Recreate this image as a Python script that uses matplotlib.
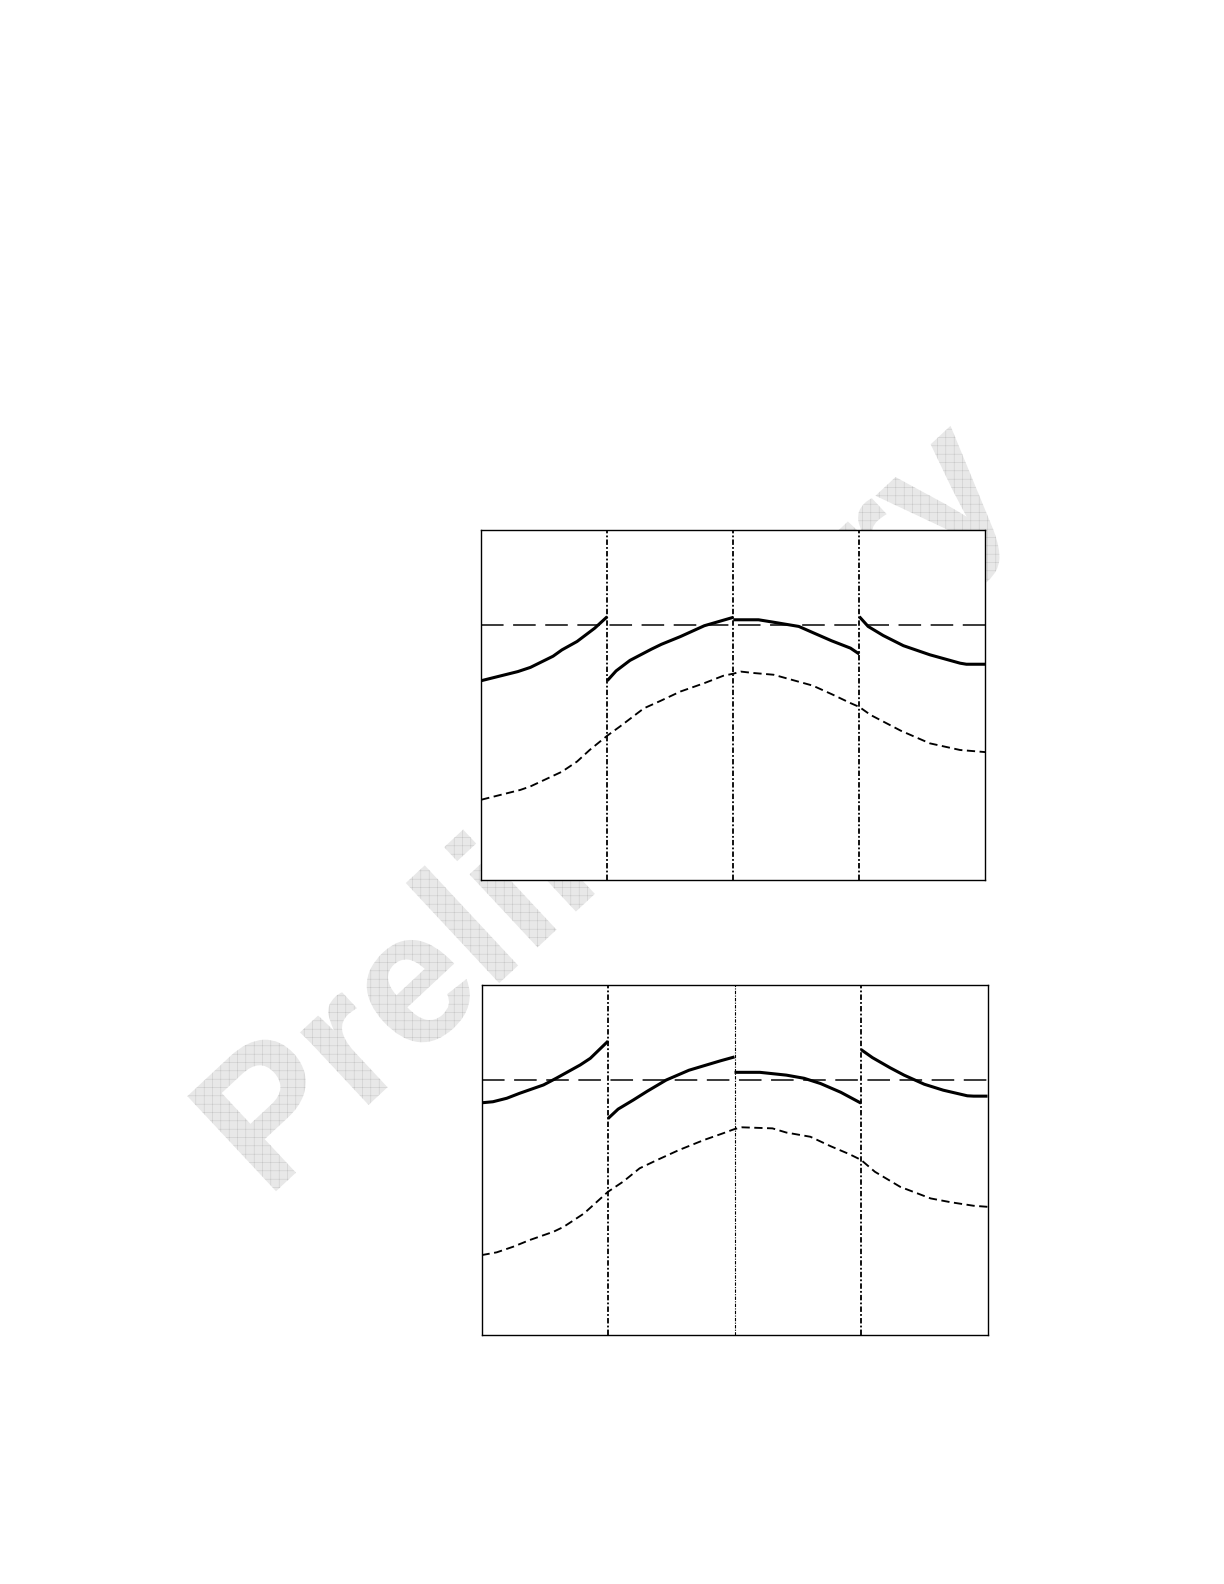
import matplotlib
matplotlib.use("Agg")
import matplotlib.pyplot as plt
from matplotlib import patheffects
from matplotlib import font_manager

# ---------------- data ----------------
# x axis: 4 equal sections 0..4, y axis: 0..1 (no ticks in the original)
section_bounds = [1, 2, 3]
ref_level_top = 0.729
ref_level_bot = 0.728

# top panel, solid curve (one piece per section)
top_solid_x = [
    [0.0, 0.29, 0.39, 0.57, 0.64, 0.76, 0.90, 1.0],
    [1.0, 1.07, 1.18, 1.35, 1.43, 1.58, 1.77, 2.0],
    [2.0, 2.20, 2.32, 2.52, 2.64, 2.78, 2.93, 3.0],
    [3.0, 3.07, 3.19, 3.35, 3.56, 3.80, 3.85, 4.0],
]
top_solid_y = [
    [0.570, 0.596, 0.608, 0.640, 0.658, 0.682, 0.720, 0.753],
    [0.570, 0.598, 0.628, 0.660, 0.674, 0.696, 0.727, 0.751],
    [0.744, 0.744, 0.737, 0.725, 0.706, 0.684, 0.663, 0.646],
    [0.753, 0.725, 0.699, 0.670, 0.644, 0.620, 0.617, 0.617],
]
# top panel, short-dashed curve
top_dash_x = [0.0, 0.31, 0.39, 0.64, 0.76, 0.86, 1.0, 1.10, 1.29, 1.42, 1.58,
              1.77, 1.92, 2.0, 2.06, 2.16, 2.32, 2.42, 2.63, 2.79, 2.93, 3.0,
              3.09, 3.33, 3.56, 3.80, 4.0]
top_dash_y = [0.230, 0.258, 0.268, 0.310, 0.339, 0.372, 0.413, 0.439, 0.491,
              0.512, 0.539, 0.563, 0.584, 0.590, 0.596, 0.592, 0.587, 0.577,
              0.556, 0.530, 0.506, 0.495, 0.472, 0.427, 0.391, 0.372, 0.366]

# bottom panel, solid curve
bot_solid_x = [
    [0.0, 0.09, 0.20, 0.30, 0.49, 0.59, 0.78, 0.86, 1.0],
    [1.0, 1.08, 1.20, 1.31, 1.46, 1.64, 1.76, 1.89, 2.0],
    [2.0, 2.20, 2.41, 2.55, 2.68, 2.84, 3.0],
    [3.0, 3.09, 3.23, 3.34, 3.50, 3.65, 3.84, 3.89, 4.0],
]
bot_solid_y = [
    [0.663, 0.666, 0.676, 0.690, 0.714, 0.733, 0.771, 0.790, 0.839],
    [0.618, 0.645, 0.671, 0.696, 0.728, 0.756, 0.769, 0.783, 0.794],
    [0.750, 0.750, 0.742, 0.733, 0.718, 0.693, 0.662],
    [0.815, 0.792, 0.763, 0.742, 0.716, 0.699, 0.683, 0.682, 0.682],
]
# bottom panel, short-dashed curve
bot_dash_x = [0.0, 0.12, 0.25, 0.38, 0.57, 0.65, 0.81, 1.0, 1.12, 1.25, 1.39,
              1.56, 1.76, 1.91, 2.0, 2.06, 2.30, 2.41, 2.60, 2.76, 2.91, 3.0,
              3.11, 3.31, 3.55, 3.71, 3.89, 4.0]
bot_dash_y = [0.228, 0.236, 0.252, 0.271, 0.295, 0.309, 0.347, 0.409, 0.438,
              0.476, 0.500, 0.528, 0.557, 0.576, 0.588, 0.593, 0.590, 0.578,
              0.566, 0.539, 0.516, 0.500, 0.466, 0.423, 0.390, 0.379, 0.369,
              0.366]

watermark_text = "Preliminary"

# ---------------- figure ----------------
plt.rcParams['hatch.linewidth'] = 0.35
fig = plt.figure(figsize=(12.24, 15.84), dpi=100)
fig.patch.set_facecolor("white")

ax_top = fig.add_axes([0.3932, 0.4443, 0.4118, 0.2210])
ax_bot = fig.add_axes([0.3934, 0.1572, 0.4134, 0.2211])

vline_style = (0, (3.0, 1.2, 1.0, 1.2))


def draw_panel(ax, solid_x, solid_y, dash_x, dash_y, level, vlw):
    ax.set_xlim(0, 4)
    ax.set_ylim(0, 1)
    ax.set_facecolor("white")
    for s in ax.spines.values():
        s.set_linewidth(1.0)
        s.set_color("black")
    ax.set_xticks([])
    ax.set_yticks([])
    for b, lw in zip(section_bounds, vlw):
        ax.axvline(b, color="black", lw=lw, linestyle=vline_style, zorder=2)
    ax.axhline(level, color="#222222", lw=1.25, linestyle=(0, (13, 5.5)), zorder=2)
    for xs, ys in zip(solid_x, solid_y):
        ax.plot(xs, ys, color="black", lw=2.2, solid_capstyle="butt",
                solid_joinstyle="round", zorder=3)
    ax.plot(dash_x, dash_y, color="black", lw=1.35, linestyle=(0, (4.4, 2.4)), zorder=3)


draw_panel(ax_top, top_solid_x, top_solid_y, top_dash_x, top_dash_y,
           ref_level_top, [1.3, 1.3, 1.3])
draw_panel(ax_bot, bot_solid_x, bot_solid_y, bot_dash_x, bot_dash_y,
           ref_level_bot, [1.3, 0.8, 1.3])

# ---------------- watermark (behind the axes) ----------------
available = {f.name for f in font_manager.fontManager.ttflist}
if "Liberation Sans Narrow" in available:
    wm_family, wm_size = "Liberation Sans Narrow", 148
else:
    wm_family, wm_size = "Liberation Sans", 136

fig.text(0.5253, 0.4640, watermark_text, family=wm_family, fontsize=wm_size,
         fontweight="bold", color="#e6e6e6", rotation=43,
         rotation_mode="anchor", ha="center", va="baseline", zorder=-1,
         path_effects=[patheffects.PathPatchEffect(
             facecolor="#e8e8e8", edgecolor="#c6c6c6", hatch="++", linewidth=0)])

fig.savefig("out.png", dpi=100, facecolor="white")
